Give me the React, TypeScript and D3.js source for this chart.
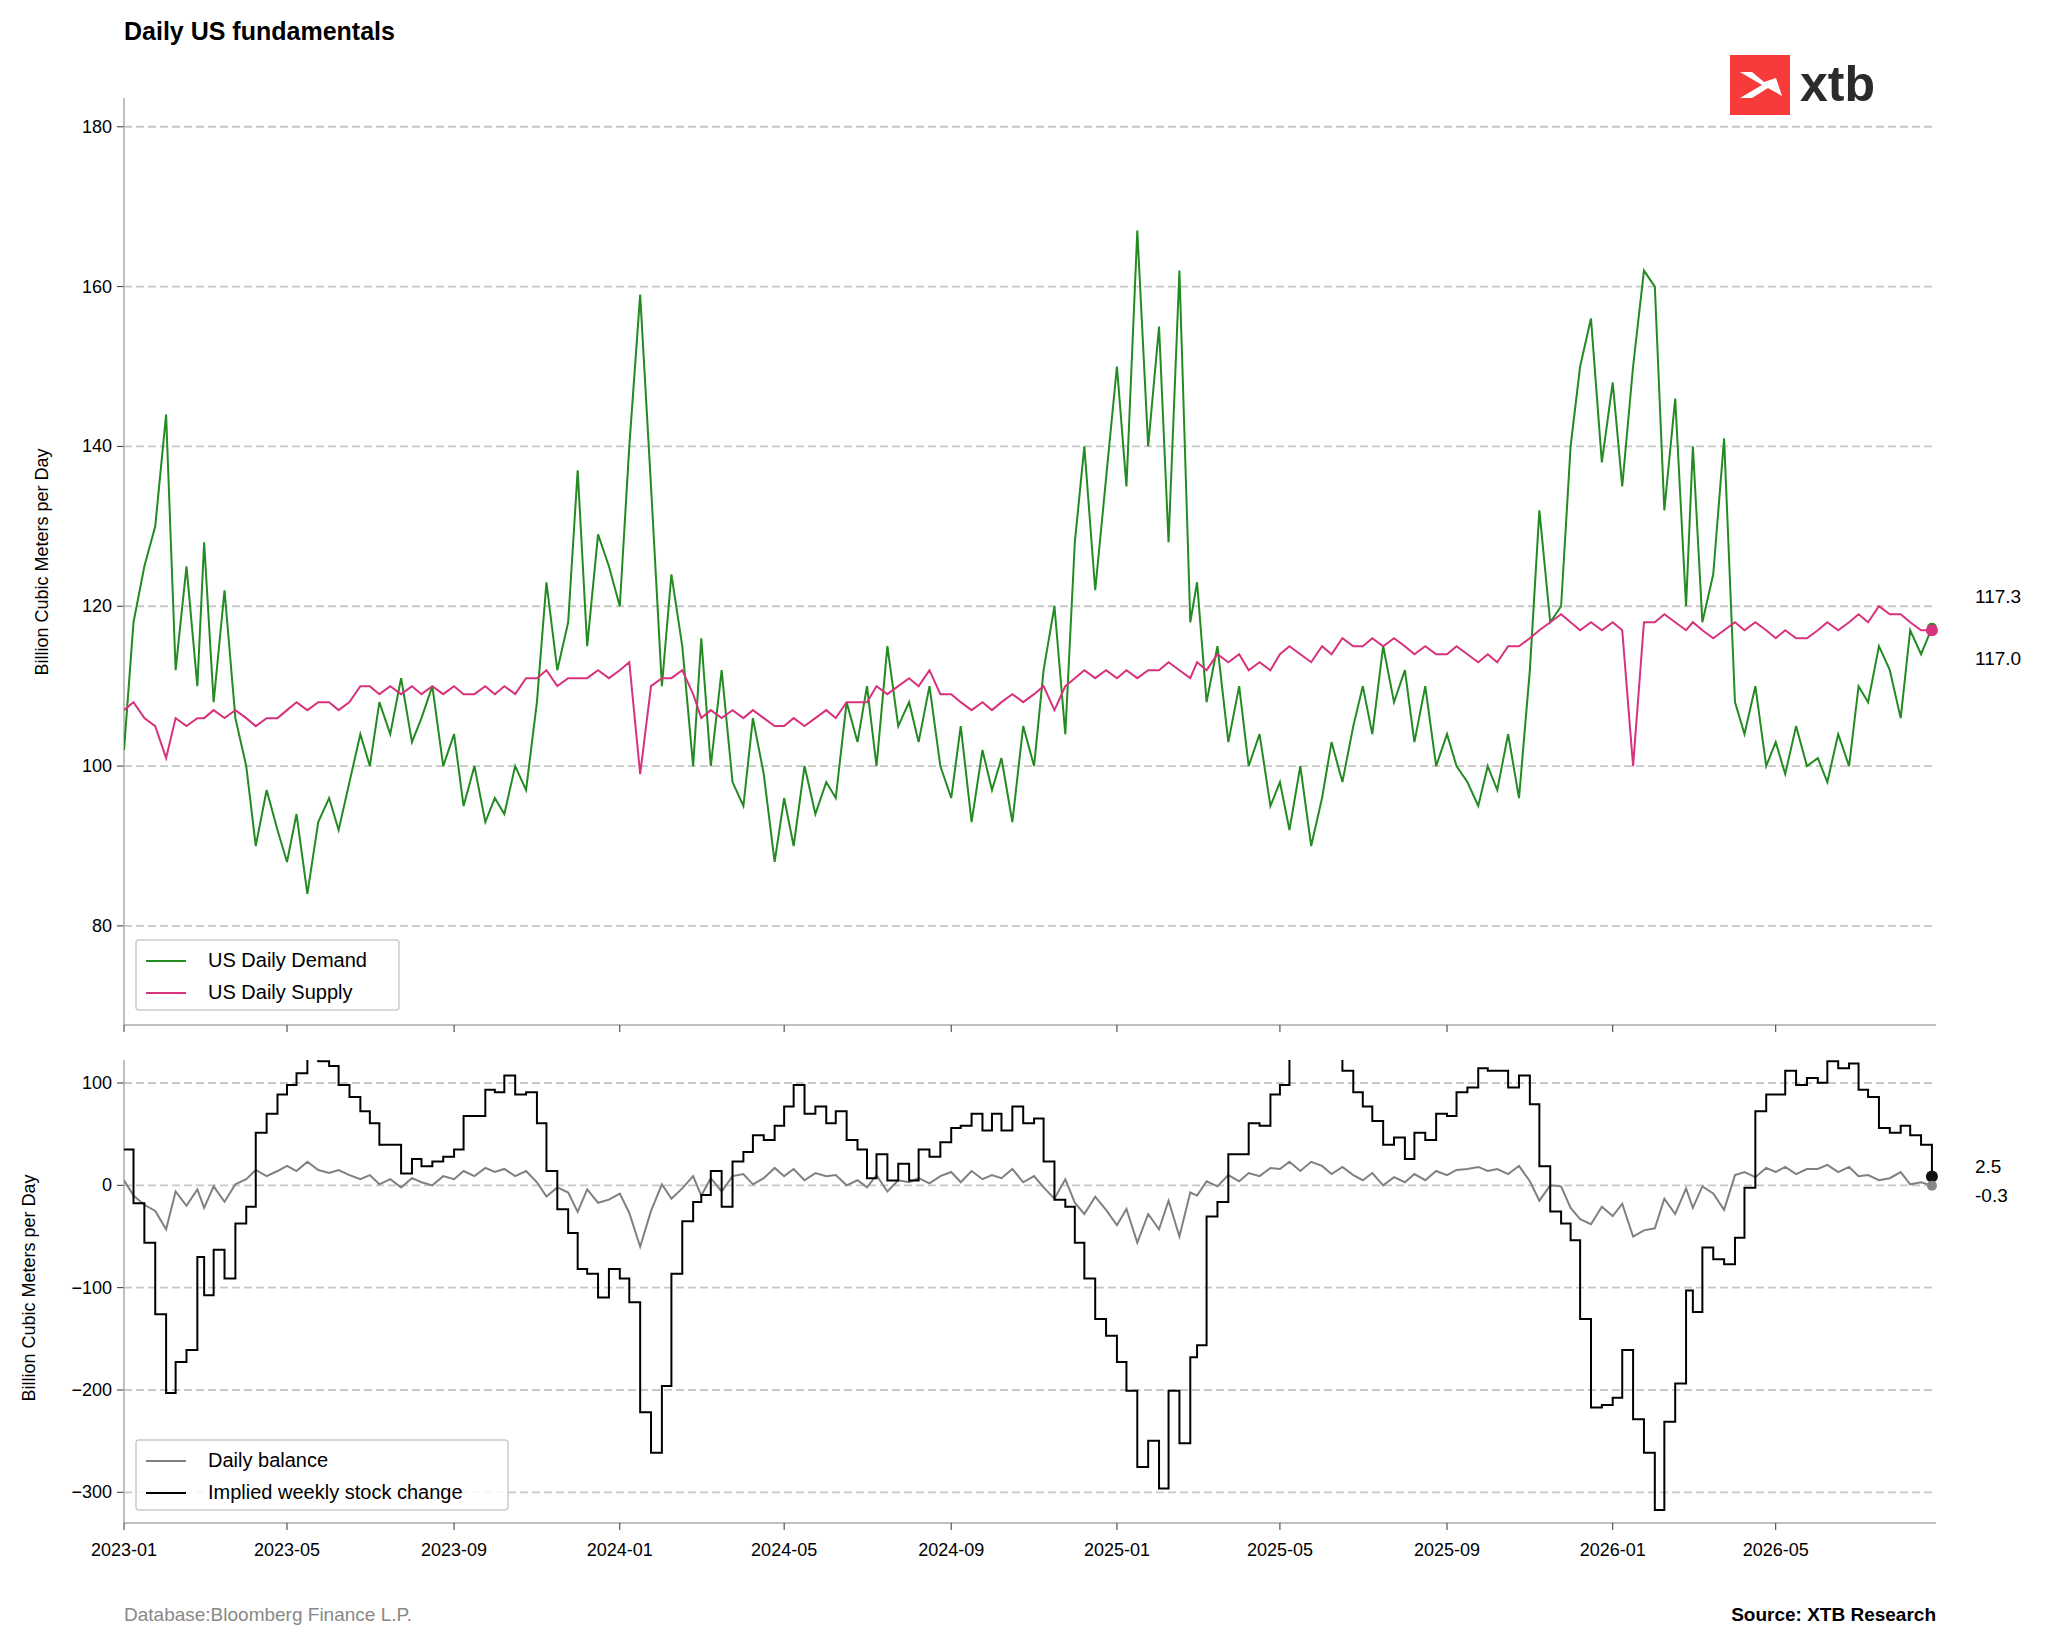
import { useEffect, useRef } from 'react';
import * as d3 from 'd3';

// four observations per month, Jan 2023 .. Aug 2026
const startYear = 2023;
const weekDays = [1, 8, 16, 24];

const demand = [
  102,118,125,130, 144,112,125,110, 128,108,122,106, 100,90,97,92, 88,94,84,93, 96,92,98,104,
  100,108,104,111, 103,106,110,100, 104,95,100,93, 96,94,100,97, 108,123,112,118, 137,115,129,125,
  120,140,159,135, 110,124,115,100, 116,100,112,98, 95,106,99,88, 96,90,100,94, 98,96,108,103,
  110,100,115,105, 108,103,110,100, 96,105,93,102, 97,101,93,105, 100,112,120,104, 128,140,122,136,
  150,135,167,140, 155,128,162,118, 123,108,115,103, 110,100,104,95, 98,92,100,90, 96,103,98,105,
  110,104,115,108, 112,103,110,100, 104,100,98,95, 100,97,104,96, 112,132,118,120, 140,150,156,138,
  148,135,150,162, 160,132,146,120, 140,118,124,141, 108,104,110,100, 103,99,105,100, 101,98,104,100,
  110,108,115,112, 106,117,114,117.3,
];

const supply = [
  107,108,106,105, 101,106,105,106, 106,107,106,107, 106,105,106,106, 107,108,107,108, 108,107,108,110,
  110,109,110,109, 110,109,110,109, 110,109,109,110, 109,110,109,111, 111,112,110,111, 111,111,112,111,
  112,113,99,110, 111,111,112,109, 106,107,106,107, 106,107,106,105, 105,106,105,106, 107,106,108,108,
  108,110,109,110, 111,110,112,109, 109,108,107,108, 107,108,109,108, 109,110,107,110, 111,112,111,112,
  111,112,111,112, 112,113,112,111, 113,112,114,113, 114,112,113,112, 114,115,114,113, 115,114,116,115,
  115,116,115,116, 115,114,115,114, 114,115,114,113, 114,113,115,115, 116,117,118,119, 118,117,118,117,
  118,117,100,118, 118,119,118,117, 118,117,116,117, 118,117,118,117, 116,117,116,116, 117,118,117,118,
  119,118,120,119, 119,118,117,117.0,
];

const xTicks = ['2023-01','2023-05','2023-09','2024-01','2024-05','2024-09','2025-01','2025-05','2025-09','2026-01','2026-05'];
const topTicks = [80, 100, 120, 140, 160, 180];
const bottomTicks = [-300, -200, -100, 0, 100];

export default function App() {
  const ref = useRef<SVGSVGElement>(null);

  useEffect(() => {
    const svg = d3.select(ref.current);
    svg.selectAll('*').remove();
    const font = 'Liberation Sans, Arial, sans-serif';

    const dates = demand.map((_, i) => new Date(startYear, Math.floor(i / 4), weekDays[i % 4]));
    const balance = demand.map((d, i) => supply[i] - d);
    // weekly stock change: 7 days of the smoothed balance
    const weekly = balance.map((_, i) => 7 * (d3.mean(balance.slice(Math.max(0, i - 2), i + 1)) as number));

    const left = 124, right = 1936;
    const x = d3.scaleTime().domain([new Date(2023, 0, 1), new Date(2026, 7, 27)]).range([left, right]);
    const yT = d3.scaleLinear().domain([67.6, 183.6]).range([1025, 98]);
    const yB = d3.scaleLinear().domain([-330, 122.5]).range([1523, 1060]);

    const defs = svg.append('defs');
    defs.append('clipPath').attr('id', 'clipT').append('rect').attr('x', left).attr('y', 98).attr('width', right - left + 10).attr('height', 927);
    defs.append('clipPath').attr('id', 'clipB').append('rect').attr('x', left).attr('y', 1060).attr('width', right - left + 10).attr('height', 463);

    svg.append('text').attr('x', 124).attr('y', 40).attr('font-family', font).attr('font-weight', 'bold')
      .attr('font-size', 25).text('Daily US fundamentals');

    // logo
    svg.append('rect').attr('x', 1730).attr('y', 55).attr('width', 60).attr('height', 60).attr('fill', '#f73b3b');
    svg.append('path').attr('d', 'M1740,72 L1762,85 L1740,98 L1752,98 L1768,88 L1782,96 L1776,78 L1764,82 L1752,72 Z').attr('fill', '#fff');
    svg.append('text').attr('x', 1800).attr('y', 101).attr('font-family', font).attr('font-size', 50)
      .attr('fill', '#2b2b2b').attr('font-weight', 'bold').text('xtb');

    const drawPanel = (y: d3.ScaleLinear<number, number>, ticks: number[], top: number, bottom: number, fmt: (v: number) => string) => {
      const g = svg.append('g');
      ticks.forEach(t => {
        g.append('line').attr('x1', left).attr('x2', right).attr('y1', y(t)).attr('y2', y(t))
          .attr('stroke', '#c8c8c8').attr('stroke-width', 1.8).attr('stroke-dasharray', '8,4');
        g.append('line').attr('x1', left - 7).attr('x2', left).attr('y1', y(t)).attr('y2', y(t)).attr('stroke', '#333');
        g.append('text').attr('x', left - 12).attr('y', y(t) + 6).attr('text-anchor', 'end')
          .attr('font-family', font).attr('font-size', 18).text(fmt(t));
      });
      g.append('line').attr('x1', left).attr('x2', left).attr('y1', top).attr('y2', bottom).attr('stroke', '#aaa').attr('stroke-width', 1.5);
      g.append('line').attr('x1', left).attr('x2', right).attr('y1', bottom).attr('y2', bottom).attr('stroke', '#aaa').attr('stroke-width', 1.5);
      xTicks.forEach(s => {
        const [yy, mm] = s.split('-').map(Number);
        const px = x(new Date(yy, mm - 1, 1));
        g.append('line').attr('x1', px).attr('x2', px).attr('y1', bottom).attr('y2', bottom + 7).attr('stroke', '#333');
      });
    };

    drawPanel(yT, topTicks, 98, 1025, v => String(v));
    drawPanel(yB, bottomTicks, 1060, 1523, v => (v < 0 ? '\u2212' + Math.abs(v) : String(v)));

    xTicks.forEach(s => {
      const [yy, mm] = s.split('-').map(Number);
      svg.append('text').attr('x', x(new Date(yy, mm - 1, 1))).attr('y', 1556).attr('text-anchor', 'middle')
        .attr('font-family', font).attr('font-size', 18).text(s);
    });

    const lineT = d3.line<number>().x((_, i) => x(dates[i])).y(d => yT(d));
    const gT = svg.append('g').attr('clip-path', 'url(#clipT)');
    gT.append('path').datum(demand).attr('d', lineT).attr('fill', 'none').attr('stroke', '#228b22').attr('stroke-width', 2);
    gT.append('path').datum(supply).attr('d', lineT).attr('fill', 'none').attr('stroke', '#d6327e').attr('stroke-width', 2);
    const n = demand.length - 1;
    svg.append('circle').attr('cx', x(dates[n])).attr('cy', yT(demand[n])).attr('r', 5).attr('fill', '#228b22');
    svg.append('circle').attr('cx', x(dates[n])).attr('cy', yT(supply[n])).attr('r', 6).attr('fill', '#d6327e');

    const lineB = d3.line<number>().x((_, i) => x(dates[i])).y(d => yB(d));
    const gB = svg.append('g').attr('clip-path', 'url(#clipB)');
    gB.append('path').datum(balance).attr('d', lineB).attr('fill', 'none').attr('stroke', '#808080').attr('stroke-width', 2);
    gB.append('path').datum(weekly).attr('d', lineB.curve(d3.curveStepAfter)).attr('fill', 'none').attr('stroke', '#000').attr('stroke-width', 2);
    svg.append('circle').attr('cx', x(dates[n])).attr('cy', yB(weekly[n])).attr('r', 6).attr('fill', '#111');
    svg.append('circle').attr('cx', x(dates[n])).attr('cy', yB(balance[n])).attr('r', 5).attr('fill', '#888');

    const lbl = (t: string, yy: number) => svg.append('text').attr('x', 1975).attr('y', yy).attr('font-family', font).attr('font-size', 19).text(t);
    lbl('117.3', 603); lbl('117.0', 665); lbl('2.5', 1173); lbl('-0.3', 1202);

    const yLabel = (t: string, cx: number, cy: number) => svg.append('text').attr('transform', `translate(${cx},${cy}) rotate(-90)`)
      .attr('text-anchor', 'middle').attr('font-family', font).attr('font-size', 18).text(t);
    yLabel('Billion Cubic Meters per Day', 48, 562);
    yLabel('Billion Cubic Meters per Day', 35, 1288);

    const legend = (x0: number, y0: number, w: number, items: [string, string][]) => {
      svg.append('rect').attr('x', x0).attr('y', y0).attr('width', w).attr('height', 70).attr('rx', 3)
        .attr('fill', '#fff').attr('fill-opacity', 0.85).attr('stroke', '#ccc').attr('stroke-width', 1.5);
      items.forEach(([t, c], i) => {
        const yy = y0 + 21 + i * 32;
        svg.append('line').attr('x1', x0 + 10).attr('x2', x0 + 50).attr('y1', yy).attr('y2', yy).attr('stroke', c).attr('stroke-width', 2.2);
        svg.append('text').attr('x', x0 + 72).attr('y', yy + 6).attr('font-family', font).attr('font-size', 20).text(t);
      });
    };
    legend(136, 940, 263, [['US Daily Demand', '#228b22'], ['US Daily Supply', '#d6327e']]);
    legend(136, 1440, 372, [['Daily balance', '#808080'], ['Implied weekly stock change', '#000']]);

    svg.append('text').attr('x', 124).attr('y', 1621).attr('font-family', font).attr('font-size', 19).attr('fill', '#888')
      .text('Database:Bloomberg Finance L.P.');
    svg.append('text').attr('x', 1936).attr('y', 1621).attr('text-anchor', 'end').attr('font-family', font).attr('font-size', 19)
      .attr('font-weight', 'bold').text('Source: XTB Research');
  }, []);

  return <svg ref={ref} width={2048} height={1647} style={{ display: 'block', margin: -8, background: '#fff' }} />;
}
